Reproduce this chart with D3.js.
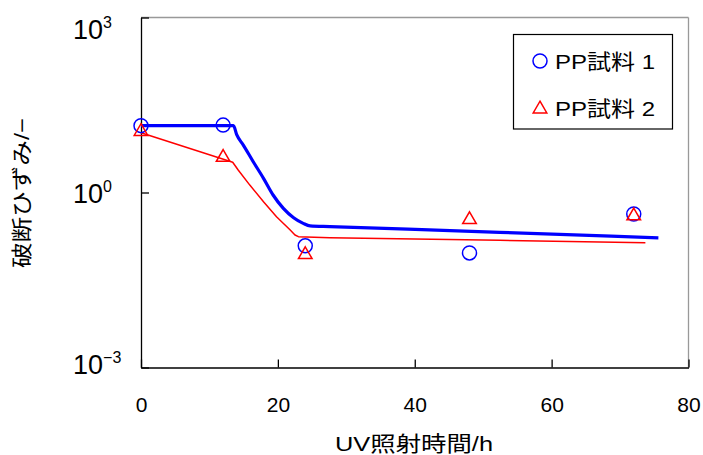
<!DOCTYPE html>
<html>
<head>
<meta charset="utf-8">
<script src="https://cdn.jsdelivr.net/npm/d3@7/dist/d3.min.js"></script>
<style>
  body { margin: 0; background: #fff; }
  text { font-family: "Liberation Sans", Arial, "Noto Sans CJK JP", sans-serif; fill: #000; }
</style>
</head>
<body>
<div id="chart"></div>
<script>
// measured points
var hours = [0, 12, 24, 48, 72];
var sample1Strain = [14.0, 14.3, 0.122, 0.092, 0.428];
var sample2Strain = [11.1, 4.0, 0.086, 0.342, 0.397];

// fitted curves
var fit1Hours = [0, 13.5, 14.0, 14.95, 16.4, 17.9, 19.3, 20.8, 22.3, 23.7, 24.7, 27.6, 52.4, 75.6];
var fit1Strain = [14.0, 14.0, 9.7, 6.5, 3.37, 1.75, 0.906, 0.535, 0.37, 0.296, 0.267, 0.26, 0.208, 0.167];
var fit2Hours = [0, 13.4, 14.2, 15.9, 17.9, 19.8, 21.8, 22.5, 23.0, 27.6, 52.4, 73.7];
var fit2Strain = [10.6, 3.3, 2.43, 1.34, 0.695, 0.385, 0.228, 0.187, 0.175, 0.168, 0.152, 0.137];

var xTicks = [0, 20, 40, 60, 80];
var yTicks = [1e-3, 1, 1e3];
var yTickExp = ["-3", "0", "3"];
var seriesNames = ["PP試料 1", "PP試料 2"];

var W = 703, H = 455;
var pL = 141, pR = 688.5, pT = 17.5, pB = 367.5;

var svg = d3.select("#chart").append("svg")
    .attr("width", W).attr("height", H);

var x = d3.scaleLinear().domain([0, 80]).range([pL, pR]);
var y = d3.scaleLog().domain([1e-3, 1e3]).range([pB, pT]);

// grey top/right frame
svg.append("line").attr("x1", pL).attr("x2", pR).attr("y1", pT).attr("y2", pT)
    .attr("stroke", "#999").attr("stroke-width", 1.3);
svg.append("line").attr("x1", pR).attr("x2", pR).attr("y1", pT).attr("y2", pB)
    .attr("stroke", "#999").attr("stroke-width", 1.3);

var xAxis = svg.append("g")
    .attr("transform", "translate(0," + pB + ")")
    .call(d3.axisBottom(x).tickValues(xTicks).tickSize(-8).tickSizeOuter(0).tickPadding(30));
xAxis.selectAll("text").style("font-size", "21px");
xAxis.selectAll("path, line").attr("stroke", "#000").attr("stroke-width", 1.3);

var yAxis = svg.append("g")
    .attr("transform", "translate(" + pL + ",0)")
    .call(d3.axisLeft(y).tickValues(yTicks).tickSize(-8).tickSizeOuter(0).tickFormat(""));
yAxis.selectAll("path, line").attr("stroke", "#000").attr("stroke-width", 1.3);

// y tick labels as 10^n
yTicks.forEach(function(v, i) {
  var ty = Math.min(Math.max(y(v), pT + 11), pB - 4);
  var t = svg.append("text")
      .attr("x", 73).attr("y", ty + 10)
      .style("font-size", "27px");
  t.append("tspan").text("10");
  t.append("tspan").attr("dy", -11).style("font-size", "16px")
      .text(yTickExp[i].replace("-", "\u2212"));
});

// axis titles
svg.append("text")
    .attr("x", 414).attr("y", 451)
    .attr("text-anchor", "middle")
    .attr("textLength", 158).attr("lengthAdjust", "spacingAndGlyphs")
    .style("font-size", "21px")
    .text("UV照射時間/h");

svg.append("text")
    .attr("transform", "translate(29,193) rotate(-90)")
    .attr("text-anchor", "middle")
    .attr("textLength", 150).attr("lengthAdjust", "spacingAndGlyphs")
    .style("font-size", "21px")
    .text("破断ひずみ/−");

// fitted lines
var smooth = d3.line()
    .x(function(d) { return x(d[0]); })
    .y(function(d) { return y(d[1]); })
    .curve(d3.curveMonotoneX);
var straight = d3.line()
    .x(function(d) { return x(d[0]); })
    .y(function(d) { return y(d[1]); });

svg.append("path")
    .datum(d3.zip(fit2Hours, fit2Strain))
    .attr("d", straight)
    .attr("fill", "none").attr("stroke", "#ff0000").attr("stroke-width", 1.5)
    .attr("stroke-linejoin", "round");

svg.append("path")
    .datum(d3.zip(fit1Hours, fit1Strain))
    .attr("d", smooth)
    .attr("fill", "none").attr("stroke", "#0000ff").attr("stroke-width", 3.2);

// markers
var tri = d3.symbol().type(d3.symbolTriangle).size(80);

svg.selectAll(".s1").data(d3.zip(hours, sample1Strain)).enter()
  .append("circle")
    .attr("cx", function(d) { return x(d[0]); })
    .attr("cy", function(d) { return y(d[1]); })
    .attr("r", 7)
    .attr("fill", "none").attr("stroke", "#0000ff").attr("stroke-width", 1.5);

svg.selectAll(".s2").data(d3.zip(hours, sample2Strain)).enter()
  .append("path")
    .attr("d", tri)
    .attr("transform", function(d) { return "translate(" + x(d[0]) + "," + y(d[1]) + ")"; })
    .attr("fill", "none").attr("stroke", "#ff0000").attr("stroke-width", 1.5);

// legend
var lg = svg.append("g");
lg.append("rect")
    .attr("x", 513.5).attr("y", 34.5).attr("width", 159).attr("height", 94.5)
    .attr("fill", "#fff").attr("stroke", "#000").attr("stroke-width", 1.2);
lg.append("circle").attr("cx", 540).attr("cy", 61).attr("r", 7)
    .attr("fill", "none").attr("stroke", "#0000ff").attr("stroke-width", 1.5);
lg.append("path").attr("d", tri).attr("transform", "translate(540,109)")
    .attr("fill", "none").attr("stroke", "#ff0000").attr("stroke-width", 1.5);
seriesNames.forEach(function(name, i) {
  lg.append("text")
      .attr("x", 555).attr("y", 68.5 + i * 47)
      .attr("textLength", 100).attr("lengthAdjust", "spacingAndGlyphs")
      .style("font-size", "21px")
      .text(name);
});
</script>
</body>
</html>
